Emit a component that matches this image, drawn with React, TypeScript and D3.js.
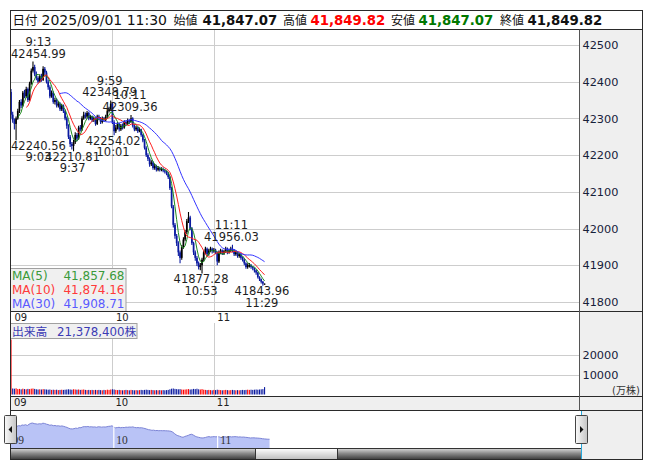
import { useEffect, useRef } from 'react';
import * as d3 from 'd3';

// 1-minute bars from 09:00 (index = minutes after 09:00) to 11:30
const closes = [
  42310, 42295, 42285, 42300, 42320, 42345, 42335, 42370, 42360, 42380,
  42350, 42395, 42430, 42440, 42420, 42410, 42400, 42415, 42405, 42435,
  42425, 42400, 42385, 42360, 42370, 42345, 42350, 42335, 42340, 42325,
  42335, 42320, 42300, 42280, 42250, 42230, 42225, 42235, 42255, 42245,
  42275, 42270, 42300, 42310, 42305, 42315, 42300, 42305, 42295, 42300,
  42285, 42305, 42300, 42290, 42300, 42295, 42305, 42320, 42325, 42340,
  42290, 42265, 42275, 42285, 42270, 42280, 42275, 42290, 42285, 42295,
  42290, 42300, 42280, 42270, 42275, 42265, 42270, 42255, 42240, 42220,
  42200, 42190, 42175, 42180, 42165, 42170, 42160, 42165, 42160, 42162,
  42158, 42155, 42150, 42140, 42110, 42060, 42010, 41980, 41960, 41935,
  41920, 41950, 41970, 41990, 42020, 42030, 42000, 41960, 41935, 41920,
  41905, 41895, 41900, 41915, 41935, 41945, 41930, 41940, 41945, 41938,
  41942, 41935, 41910, 41935, 41940, 41932, 41938, 41945, 41935, 41940,
  41945, 41940, 41930, 41935, 41925, 41930, 41920, 41915, 41905, 41895,
  41900, 41900, 41895, 41892, 41886, 41880, 41868, 41862, 41855, 41850,
  41849.82,
];
const highs = [
  42380, 42318, 42300, 42305, 42326, 42350, 42352, 42375, 42378, 42386,
  42384, 42400, 42436, 42454.99, 42446, 42428, 42415, 42420, 42422, 42442,
  42440, 42430, 42405, 42390, 42376, 42374, 42356, 42354, 42346, 42344,
  42340, 42338, 42324, 42305, 42284, 42255, 42236, 42242, 42262, 42260,
  42280, 42282, 42306, 42318, 42316, 42320, 42318, 42310, 42308, 42305,
  42303, 42310, 42310, 42304, 42305, 42304, 42310, 42325, 42332, 42348.79,
  42344, 42295, 42282, 42290, 42288, 42285, 42286, 42295, 42294, 42300,
  42298, 42309.36, 42303, 42284, 42280, 42278, 42275, 42272, 42258, 42244,
  42224, 42205, 42194, 42186, 42184, 42176, 42174, 42170, 42168, 42167,
  42166, 42162, 42158, 42154, 42143, 42114, 42064, 42015, 41985, 41965,
  41940, 41955, 41976, 41996, 42026, 42045, 42035, 42004, 41964, 41940,
  41925, 41910, 41906, 41920, 41940, 41950, 41948, 41945, 41950, 41948,
  41947, 41945, 41938, 41940, 41945, 41943, 41942, 41950, 41948, 41945,
  41950, 41956.03, 41944, 41940, 41938, 41934, 41933, 41924, 41918, 41908,
  41905, 41906, 41903, 41898, 41894, 41888, 41882, 41870, 41864, 41857,
  41849.82,
];
const lows = [
  42300, 42288, 42270, 42240.56, 42296, 42315, 42328, 42332, 42355, 42356,
  42345, 42348, 42392, 42425, 42415, 42404, 42395, 42398, 42400, 42402,
  42418, 42395, 42378, 42355, 42356, 42340, 42338, 42330, 42330, 42320,
  42320, 42315, 42295, 42272, 42244, 42222, 42215, 42210.81, 42230, 42238,
  42242, 42264, 42266, 42296, 42300, 42300, 42295, 42296, 42290, 42290,
  42280, 42282, 42295, 42285, 42286, 42290, 42292, 42300, 42316, 42320,
  42285, 42254.02, 42260, 42270, 42264, 42266, 42270, 42272, 42280, 42282,
  42285, 42288, 42275, 42265, 42266, 42260, 42262, 42250, 42235, 42215,
  42195, 42184, 42168, 42170, 42160, 42160, 42155, 42156, 42155, 42156,
  42153, 42150, 42145, 42135, 42105, 42055, 42003, 41972, 41952, 41925,
  41905, 41915, 41945, 41965, 41985, 42015, 41995, 41955, 41928, 41912,
  41898, 41888, 41886, 41877.28, 41910, 41930, 41925, 41926, 41935, 41932,
  41934, 41930, 41900, 41906, 41930, 41928, 41928, 41934, 41930, 41931,
  41936, 41935, 41925, 41926, 41920, 41920, 41915, 41910, 41900, 41890,
  41890, 41894, 41890, 41886, 41880, 41874, 41864, 41857, 41850, 41843.96,
  41847.07,
];
const firstOpen = 42372;
// 万株
const volumes = [
  27500,
  3000, 2900, 3100, 2700, 2800, 2600, 2900, 2700, 2600, 2800,
  2700, 2900, 3000, 2800, 2600, 2500, 2600, 2500, 2700, 2600,
  2500, 2400, 2500, 2300, 2400, 2300, 2400, 2200, 2300, 2400,
  2300, 2400, 2500, 2600, 2500, 2400, 2600, 2500, 2400, 2500,
  2300, 2400, 2500, 2300, 2200, 2300, 2200, 2300, 2200, 2300,
  2200, 2300, 2200, 2100, 2300, 2200, 2400, 2300, 2500, 2600,
  2500, 2300, 2200, 2300, 2200, 2100, 2200, 2300, 2200, 2100,
  2300, 2200, 2100, 2200, 2100, 2200, 2300, 2200, 2300, 2400,
  2300, 2200, 2300, 2200, 2100, 2200, 2100, 2200, 2100, 2200,
  2100, 2200, 2300, 2600, 2900, 3000, 2800, 2700, 2600, 2700,
  2500, 2400, 2500, 2600, 2700, 2500, 2600, 2800, 2700, 2900,
  2600, 2500, 2700, 2400, 2300, 2200, 2300, 2200, 2100, 2300,
  2200, 2400, 2300, 2200, 2100, 2200, 2300, 2200, 2100, 2200,
  2300, 2200, 2100, 2200, 2100, 2200, 2300, 2200, 2300, 2400,
  2300, 2400, 2300, 2400, 2500, 2400, 2500, 2600, 2700, 3700,
];

const lastBar = { open: 41847.07, high: 41849.82, low: 41847.07, close: 41849.82 };
const headerDate = '2025/09/01 11:30';
const totalVolume = '21,378,400';

const priceTicks = [41800, 41900, 42000, 42100, 42200, 42300, 42400, 42500];
const volumeTicks = [10000, 20000];
const hourLabels = ['09', '10', '11'];
const hourOffsets = [0, 60, 120];
const sessionMinutes = 330;

const maPeriods = [5, 10, 30];
const maNames = ['MA(5)', 'MA(10)', 'MA(30)'];
const maLegendValues = ['41,857.68', '41,874.16', '41,908.71'];

const extremes = [
  { time: '9:03', value: 42240.56, kind: 'low' },
  { time: '9:13', value: 42454.99, kind: 'high' },
  { time: '9:37', value: 42210.81, kind: 'low' },
  { time: '9:59', value: 42348.79, kind: 'high' },
  { time: '10:01', value: 42254.02, kind: 'low' },
  { time: '10:11', value: 42309.36, kind: 'high' },
  { time: '10:53', value: 41877.28, kind: 'low' },
  { time: '11:11', value: 41956.03, kind: 'high' },
  { time: '11:29', value: 41843.96, kind: 'low' },
];

const FONT = "'DejaVu Sans', 'Noto Sans CJK JP', sans-serif";
const MA_LINE = ['#1f8a1f', '#ff1f1f', '#3434ff'];
const MA_TEXT = ['#3a9a3a', '#ff3a3a', '#5a5aff'];

export default function App() {
  const svgRef = useRef<SVGSVGElement>(null);

  useEffect(() => {
    if (!svgRef.current) return;
    const svg = d3.select(svgRef.current);
    svg.selectAll('*').remove();

    const frameL = 10.5, frameR = 642.5, axisX = 579.5, plotL = 11;
    const headTop = 10.5, priceTop = 29.5, priceBottom = 311.5;
    const volTop = 323, volBottom = 396.5, navTop = 410.5, scrollTop = 448.5, frameBottom = 459.5;
    const navR = 581.5;

    const x = d3.scaleLinear().domain([0, 336]).range([plotL, 579]);
    const y = d3.scaleLinear().domain([41800, 42500]).range([301.9, 45]);
    const vy = d3.scaleLinear().domain([0, 20000]).range([394.5, 354.5]);
    const nx = d3.scaleLinear().domain([0, sessionMinutes]).range([10, 581]);
    const ny = d3.scaleLinear().domain([41530, 42880]).range([448, 411]);

    const bars = closes.map((c, i) => ({
      i,
      open: i === 0 ? firstOpen : i === closes.length - 1 ? lastBar.open : closes[i - 1],
      close: c,
      high: highs[i],
      low: lows[i],
      volume: volumes[i],
      volUp: i === 0 || c >= closes[i - 1],
    }));

    const defs = svg.append('defs');
    defs.append('clipPath').attr('id', 'plotClip')
      .append('rect').attr('x', plotL).attr('y', priceTop)
      .attr('width', axisX - plotL).attr('height', priceBottom - priceTop);

    const scrollGrad = defs.append('linearGradient').attr('id', 'scrollGrad')
      .attr('x1', '0%').attr('y1', '0%').attr('x2', '0%').attr('y2', '100%');
    scrollGrad.append('stop').attr('offset', '0%').attr('stop-color', '#d8d8d8');
    scrollGrad.append('stop').attr('offset', '45%').attr('stop-color', '#8a8a8a');
    scrollGrad.append('stop').attr('offset', '100%').attr('stop-color', '#3a3a3a');

    const thumbGrad = defs.append('linearGradient').attr('id', 'thumbGrad')
      .attr('x1', '0%').attr('y1', '0%').attr('x2', '0%').attr('y2', '100%');
    thumbGrad.append('stop').attr('offset', '0%').attr('stop-color', '#ffffff');
    thumbGrad.append('stop').attr('offset', '100%').attr('stop-color', '#bdbdbd');

    const handleGrad = defs.append('linearGradient').attr('id', 'handleGrad')
      .attr('x1', '0%').attr('y1', '0%').attr('x2', '100%').attr('y2', '0%');
    handleGrad.append('stop').attr('offset', '0%').attr('stop-color', '#fafafa');
    handleGrad.append('stop').attr('offset', '100%').attr('stop-color', '#c4c4c4');

    // Backgrounds
    svg.append('rect').attr('x', frameL).attr('y', headTop)
      .attr('width', frameR - frameL).attr('height', frameBottom - headTop).attr('fill', '#fff');
    svg.append('rect').attr('x', axisX).attr('y', priceTop)
      .attr('width', frameR - axisX).attr('height', navTop - priceTop).attr('fill', '#efefef');
    svg.append('rect').attr('x', frameL).attr('y', volBottom)
      .attr('width', frameR - frameL).attr('height', navTop - volBottom).attr('fill', '#efefef');
    svg.append('rect').attr('x', navR).attr('y', navTop)
      .attr('width', frameR - navR).attr('height', frameBottom - navTop).attr('fill', '#efefef');

    // Header
    const head = svg.append('g').attr('font-family', FONT);
    const headParts = [
      { t: '日付', x: 12.5, c: '#111', b: false, s: 12.5 },
      { t: headerDate, x: 41.5, c: '#111', b: false, s: 14 },
      { t: '始値', x: 173.5, c: '#111', b: false, s: 12 },
      { t: d3.format(',.2f')(lastBar.open), x: 202.5, c: '#111', b: true, s: 13.3 },
      { t: '高値', x: 283, c: '#111', b: false, s: 12 },
      { t: d3.format(',.2f')(lastBar.high), x: 310.5, c: '#ff0000', b: true, s: 13.3 },
      { t: '安値', x: 391, c: '#111', b: false, s: 12 },
      { t: d3.format(',.2f')(lastBar.low), x: 418.5, c: '#007800', b: true, s: 13.3 },
      { t: '終値', x: 500, c: '#111', b: false, s: 12 },
      { t: d3.format(',.2f')(lastBar.close), x: 527.5, c: '#111', b: true, s: 13.3 },
    ];
    headParts.forEach(p => {
      head.append('text').attr('x', p.x).attr('y', 24.5).attr('fill', p.c)
        .attr('font-size', p.s)
        .attr('font-weight', p.b ? 'bold' : 'normal').text(p.t);
    });

    // Grid: price panel
    const grid = svg.append('g').attr('stroke', '#cdcdcd').attr('stroke-width', 1);
    priceTicks.forEach(t => {
      grid.append('line').attr('x1', plotL).attr('x2', axisX)
        .attr('y1', Math.round(y(t)) + 0.5).attr('y2', Math.round(y(t)) + 0.5);
    });
    volumeTicks.forEach(t => {
      grid.append('line').attr('x1', plotL).attr('x2', axisX)
        .attr('y1', Math.round(vy(t)) + 0.5).attr('y2', Math.round(vy(t)) + 0.5);
    });
    hourOffsets.slice(1).forEach(m => {
      const gx = Math.round(x(m)) + 0.5;
      grid.append('line').attr('x1', gx).attr('x2', gx).attr('y1', priceTop).attr('y2', priceBottom);
      grid.append('line').attr('x1', gx).attr('x2', gx).attr('y1', volTop).attr('y2', volBottom);
    });

    // Candles
    const plot = svg.append('g').attr('clip-path', 'url(#plotClip)');
    const candles = plot.append('g');
    bars.forEach(d => {
      const col = d.close >= d.open ? '#000000' : '#0a1aa0';
      const cx = x(d.i);
      candles.append('line').attr('x1', cx).attr('x2', cx)
        .attr('y1', y(d.high)).attr('y2', y(d.low)).attr('stroke', col).attr('stroke-width', 1.1);
      const top = y(Math.max(d.open, d.close));
      const h = Math.max(1, Math.abs(y(d.open) - y(d.close)));
      candles.append('rect').attr('x', cx - 0.85).attr('width', 1.7)
        .attr('y', top).attr('height', h).attr('fill', col);
    });

    // Moving averages
    maPeriods.forEach((p, k) => {
      const vals = closes.map((_, i) => (i < p - 1 ? null : d3.mean(closes.slice(i - p + 1, i + 1)) as number));
      const line = d3.line<number | null>()
        .defined(v => v != null)
        .x((_, i) => x(i))
        .y(v => y(v as number));
      plot.append('path').datum(vals).attr('fill', 'none')
        .attr('stroke', MA_LINE[k]).attr('stroke-width', 1).attr('d', line);
    });

    // High / low labels
    const labels = svg.append('g').attr('font-family', FONT).attr('font-size', 11.5)
      .attr('fill', '#1e1e1e').attr('text-anchor', 'middle');
    extremes.forEach(e => {
      const [hh, mm] = e.time.split(':').map(Number);
      const m = (hh - 9) * 60 + mm;
      const py = y(e.value);
      const g = labels.append('g');
      const tTime = g.append('text').text(e.time);
      const tVal = g.append('text').text(e.value.toFixed(2));
      if (e.kind === 'high') {
        tTime.attr('y', py - 15.5);
        tVal.attr('y', py - 4);
      } else {
        tVal.attr('y', py + 9.5);
        tTime.attr('y', py + 21);
      }
      const w = Math.max((tTime.node() as SVGTextElement).getComputedTextLength(),
        (tVal.node() as SVGTextElement).getComputedTextLength());
      const cx = Math.max(x(m) - 1, plotL + w / 2);
      tTime.attr('x', cx);
      tVal.attr('x', cx);
    });

    // Price axis
    svg.append('g')
      .attr('transform', `translate(${axisX},0)`)
      .call(d3.axisRight(y).tickValues(priceTicks).tickSize(0).tickPadding(3).tickFormat(d3.format('d')))
      .attr('font-family', FONT).attr('font-size', 11.3)
      .call(g => g.select('.domain').remove())
      .call(g => g.selectAll('text').attr('fill', '#16203a'));

    // MA legend
    const leg = svg.append('g').attr('font-family', FONT).attr('font-size', 12);
    leg.append('rect').attr('x', frameL).attr('y', 268.5).attr('width', 115.5).attr('height', 43)
      .attr('fill', '#f0f0f0').attr('stroke', '#a0a0a0');
    maNames.forEach((n, k) => {
      const by = 279.5 + k * 14.2;
      leg.append('text').attr('x', 12).attr('y', by).attr('fill', MA_TEXT[k]).text(n);
      leg.append('text').attr('x', 124.5).attr('y', by).attr('text-anchor', 'end')
        .attr('fill', MA_TEXT[k]).text(maLegendValues[k]);
    });

    // Time labels (under price panel and under volume panel)
    const tl = svg.append('g').attr('font-family', FONT).attr('font-size', 10).attr('fill', '#222');
    hourLabels.forEach((h, k) => {
      tl.append('text').attr('x', x(hourOffsets[k]) + 3.5).attr('y', 320.5).text(h);
      tl.append('text').attr('x', x(hourOffsets[k]) + 3).attr('y', 406).text(h);
    });

    // Volume bars
    const vol = svg.append('g');
    bars.forEach(d => {
      vol.append('rect').attr('x', x(d.i) - 0.55).attr('width', 1.1)
        .attr('y', vy(d.volume)).attr('height', vy(0) - vy(d.volume))
        .attr('fill', d.volUp ? '#ff0000' : '#0a1aa0');
    });

    // Volume label
    const vl = svg.append('g').attr('font-family', FONT).attr('font-size', 11.8).attr('fill', '#3b3bb4');
    vl.append('rect').attr('x', frameL).attr('y', 323.5).attr('width', 126.5).attr('height', 15)
      .attr('fill', '#f0f0f0').attr('stroke', '#a0a0a0');
    vl.append('text').attr('x', 12).attr('y', 335.5).text('出来高');
    vl.append('text').attr('x', 57).attr('y', 335.5).text(`${totalVolume}株`);

    // Volume axis
    svg.append('g')
      .attr('transform', `translate(${axisX},0)`)
      .call(d3.axisRight(vy).tickValues(volumeTicks).tickSize(0).tickPadding(3).tickFormat(d3.format('d')))
      .attr('font-family', FONT).attr('font-size', 11.3)
      .call(g => g.select('.domain').remove())
      .call(g => g.selectAll('text').attr('fill', '#16203a'));
    svg.append('text').attr('x', 612).attr('y', 393.5).attr('font-family', FONT)
      .attr('font-size', 10).attr('fill', '#333').text('(万株)');

    // Navigator
    const navArea = d3.area<number>()
      .x((_, i) => nx(i))
      .y0(scrollTop)
      .y1(v => ny(v));
    const navLine = d3.line<number>().x((_, i) => nx(i)).y(v => ny(v));
    svg.append('path').datum(closes).attr('fill', '#b9c3f6').attr('d', navArea);
    svg.append('path').datum(closes).attr('fill', 'none').attr('stroke', '#7c84d6')
      .attr('stroke-width', 1).attr('d', navLine);
    hourOffsets.slice(1).forEach(m => {
      svg.append('line').attr('x1', nx(m)).attr('x2', nx(m)).attr('y1', navTop).attr('y2', scrollTop)
        .attr('stroke', '#fff').attr('stroke-width', 1.2);
    });
    const nl = svg.append('g').attr('font-family', "'Liberation Serif', serif").attr('font-size', 11.5).attr('fill', '#333');
    hourLabels.forEach((h, k) => {
      nl.append('text').attr('x', nx(hourOffsets[k]) + 2.5).attr('y', 444).text(h);
    });

    // Scrollbar
    svg.append('rect').attr('x', frameL).attr('y', scrollTop).attr('width', navR - frameL)
      .attr('height', frameBottom - scrollTop).attr('fill', 'url(#scrollGrad)').attr('stroke', '#333');
    svg.append('rect').attr('x', 255.5).attr('y', scrollTop).attr('width', 82)
      .attr('height', frameBottom - scrollTop).attr('fill', 'url(#thumbGrad)').attr('stroke', '#333');

    // Navigator boundaries
    [frameL, navR].forEach(bx => {
      svg.append('line').attr('x1', bx).attr('x2', bx).attr('y1', navTop).attr('y2', frameBottom)
        .attr('stroke', '#25a8dc').attr('stroke-width', 1);
    });

    // Frame lines
    const fr = svg.append('g').attr('stroke', '#2a2a2a').attr('stroke-width', 1).attr('fill', 'none');
    fr.append('rect').attr('x', frameL).attr('y', headTop).attr('width', frameR - frameL).attr('height', frameBottom - headTop);
    [priceTop, priceBottom, volBottom, navTop].forEach(ly => {
      fr.append('line').attr('x1', frameL).attr('x2', frameR).attr('y1', ly).attr('y2', ly);
    });
    fr.append('line').attr('x1', axisX).attr('x2', axisX).attr('y1', priceTop).attr('y2', navTop).attr('stroke', '#555');

    // Handles
    const handles = [
      { x: 4.5, dir: -1 },
      { x: 575.5, dir: 1 },
    ];
    handles.forEach(hd => {
      svg.append('rect').attr('x', hd.x).attr('y', 415.5).attr('width', 12).attr('height', 28)
        .attr('fill', 'url(#handleGrad)').attr('stroke', '#444').attr('rx', 1);
      const cx = hd.x + 6, cy = 429.5;
      svg.append('path')
        .attr('d', `M${cx + 2 * hd.dir},${cy} L${cx - 1.5 * hd.dir},${cy - 3.5} L${cx - 1.5 * hd.dir},${cy + 3.5} Z`)
        .attr('fill', '#111');
    });
  }, []);

  return (
    <svg ref={svgRef} width={653} height={470}
      style={{ position: 'absolute', left: 0, top: 0, background: '#fff' }} />
  );
}
